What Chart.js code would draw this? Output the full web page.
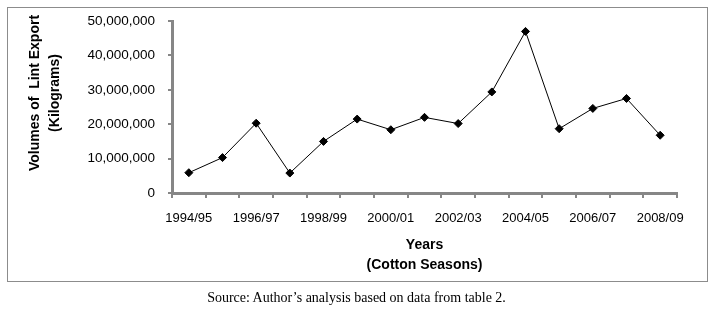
<!DOCTYPE html>
<html>
<head>
<meta charset="utf-8">
<script src="https://cdn.jsdelivr.net/npm/chart.js@4/dist/chart.umd.min.js"></script>
<style>
  html, body { margin: 0; padding: 0; background: #fff; }
  #wrap { position: relative; width: 713px; height: 313px; }
  #frame { position: absolute; left: 7px; top: 7px; width: 699px; height: 273px; border: 1px solid #8c8c8c; }
  #chart { position: absolute; left: 0; top: 0; }
  #source { position: absolute; left: 0; width: 713px; top: 290px; text-align: center;
            font: 14px/16px "Liberation Serif", "Times New Roman", serif; color: #000; }
</style>
</head>
<body>
<div id="wrap">
  <div id="frame"></div>
  <canvas id="chart" width="713" height="313"></canvas>
  <div id="source">Source: Author’s analysis based on data from table 2.</div>
</div>
<script>
const seasons = ['1994/95', '1995/96', '1996/97', '1997/98', '1998/99', '1999/00', '2000/01', '2001/02',
  '2002/03', '2003/04', '2004/05', '2005/06', '2006/07', '2007/08', '2008/09'];
const lintExport = [5900000, 10300000, 20300000, 5800000, 15000000, 21500000, 18400000, 22000000,
  20200000, 29400000, 47000000, 18700000, 24600000, 27500000, 16800000];
const yTicks = [0, 10000000, 20000000, 30000000, 40000000, 50000000];
const yTitle = ['Volumes of  Lint Export', '(Kilograms)'];
const xTitle = ['Years', '(Cotton Seasons)'];

const axisGray = '#868686';
const sans = 'Arial, "Liberation Sans", sans-serif';

// y title sits a bit above the middle of the axis in the original, so draw it by hand
const yTitlePlugin = {
  id: 'yTitle',
  afterDraw(chart) {
    const c = chart.ctx;
    c.save();
    c.translate(35, 93);
    c.rotate(-Math.PI / 2);
    c.font = 'bold 14px ' + sans;
    c.fillStyle = '#000';
    c.textAlign = 'center';
    c.textBaseline = 'middle';
    yTitle.forEach((t, i) => c.fillText(t, 0, i * 20));
    c.restore();
  },
};

const ctx = document.getElementById('chart').getContext('2d');
new Chart(ctx, {
  type: 'line',
  data: {
    labels: seasons,
    datasets: [{
      label: 'Lint export',
      data: lintExport,
      borderColor: '#000',
      borderWidth: 1,
      tension: 0,
      pointStyle: 'rectRot',
      pointRadius: 4,
      pointBackgroundColor: '#000',
      pointBorderColor: '#000',
      pointBorderWidth: 1,
    }],
  },
  options: {
    responsive: false,
    animation: false,
    layout: { padding: { left: 23, top: 17, right: 36, bottom: 28 } },
    plugins: { legend: { display: false }, tooltip: { enabled: false } },
    scales: {
      x: {
        offset: true,
        grid: { offset: true, drawOnChartArea: false, tickLength: 5, color: axisGray, lineWidth: 2 },
        border: { color: axisGray, width: 3 },
        ticks: {
          autoSkip: false, maxRotation: 0, padding: 13, color: '#000',
          font: { family: sans, size: 13 },
          callback: function (v, i) { return i % 2 === 0 ? this.getLabelForValue(v) : ''; },
        },
        title: {
          display: true, text: xTitle, color: '#000',
          font: { family: sans, size: 14, weight: 'bold', lineHeight: '20px' },
          padding: { top: 0, bottom: 10 },
        },
        afterFit: (s) => { s.height = 92; },
      },
      y: {
        min: 0, max: 50000000,
        afterBuildTicks: (s) => { s.ticks = yTicks.map(v => ({ value: v })); },
        grid: { drawOnChartArea: false, tickLength: 4, color: axisGray, lineWidth: 2 },
        border: { color: axisGray, width: 3 },
        ticks: {
          padding: 13, color: '#000',
          font: { family: sans, size: 13.5 },
          callback: (v) => v.toLocaleString('en-US'),
        },
        title: { display: false },
        afterFit: (s) => { s.width = 149; },
      },
    },
  },
  plugins: [yTitlePlugin],
});
</script>
</body>
</html>
